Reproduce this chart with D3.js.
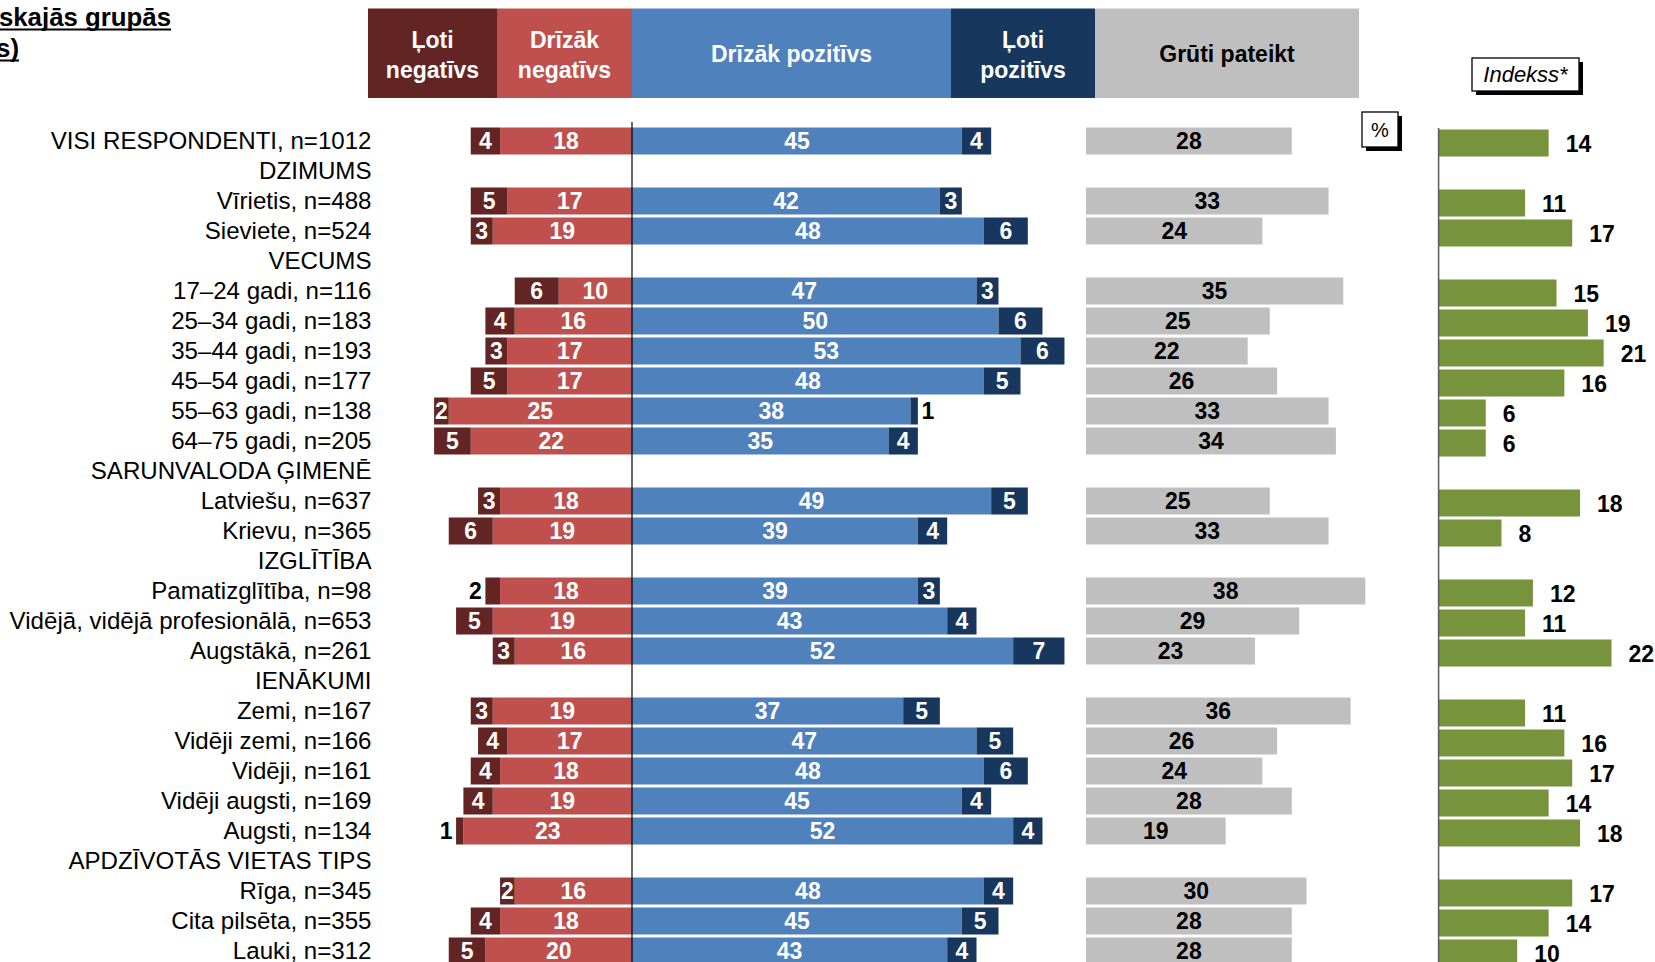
<!DOCTYPE html>
<html>
<head>
<meta charset="utf-8">
<script src="https://cdn.jsdelivr.net/npm/d3@7"></script>
<style>
  html, body { margin: 0; padding: 0; background: #fff; }
  svg { display: block; font-family: "Liberation Sans", Arial, sans-serif; }
</style>
</head>
<body>
<svg id="chart" width="1655" height="962"></svg>
<script>
// ---------------- DATA ----------------
const categories = [
  "VISI RESPONDENTI, n=1012", "DZIMUMS",
  "Vīrietis, n=488", "Sieviete, n=524", "VECUMS",
  "17–24 gadi, n=116", "25–34 gadi, n=183", "35–44 gadi, n=193",
  "45–54 gadi, n=177", "55–63 gadi, n=138", "64–75 gadi, n=205",
  "SARUNVALODA ĢIMENĒ", "Latviešu, n=637", "Krievu, n=365",
  "IZGLĪTĪBA", "Pamatizglītība, n=98", "Vidējā, vidējā profesionālā, n=653",
  "Augstākā, n=261", "IENĀKUMI", "Zemi, n=167", "Vidēji zemi, n=166",
  "Vidēji, n=161", "Vidēji augsti, n=169", "Augsti, n=134",
  "APDZĪVOTĀS VIETAS TIPS", "Rīga, n=345", "Cita pilsēta, n=355", "Lauki, n=312"
];
// null = group heading row
const lotiNegativs   = [4,null,5,3,null,6,4,3,5,2,5,null,3,6,null,2,5,3,null,3,4,4,4,1,null,2,4,5];
const drizakNegativs = [18,null,17,19,null,10,16,17,17,25,22,null,18,19,null,18,19,16,null,19,17,18,19,23,null,16,18,20];
const drizakPozitivs = [45,null,42,48,null,47,50,53,48,38,35,null,49,39,null,39,43,52,null,37,47,48,45,52,null,48,45,43];
const lotiPozitivs   = [4,null,3,6,null,3,6,6,5,1,4,null,5,4,null,3,4,7,null,5,5,6,4,4,null,4,5,4];
const grutiPateikt   = [28,null,33,24,null,35,25,22,26,33,34,null,25,33,null,38,29,23,null,36,26,24,28,19,null,30,28,28];
const indekss        = [14,null,11,17,null,15,19,21,16,6,6,null,18,8,null,12,11,22,null,11,16,17,14,18,null,17,14,10];
// labels drawn outside their segment: [row, series]
const outsideLabels = [[9,"lp"],[15,"ln"],[23,"ln"]];

const headerLabels = [
  {key:"ln", lines:["Ļoti","negatīvs"]},
  {key:"dn", lines:["Drīzāk","negatīvs"]},
  {key:"dp", lines:["Drīzāk pozitīvs"]},
  {key:"lp", lines:["Ļoti","pozitīvs"]},
  {key:"gp", lines:["Grūti pateikt"]}
];
const titleLines = ["skajās grupās", "s)"];

// ---------------- STYLE ----------------
const colors = {ln:"#632523", dn:"#C0504D", dp:"#4F81BD", lp:"#17375E", gp:"#BFBFBF", idx:"#77933C"};

const svg = d3.select("#chart");
const W = 1655, H = 962;

// scales
const y = d3.scaleBand().domain(d3.range(categories.length))
  .range([126, 126 + 30 * categories.length]).paddingInner(0.1).paddingOuter(0.05);
const center = 632;
const xDiv = d3.scaleLinear().domain([0, 10]).range([center, center + 73.3]);
const unit = v => xDiv(v) - xDiv(0);
const xGrey = d3.scaleLinear().domain([0, 10]).range([1086, 1086 + 73.5]);
const xIdx = d3.scaleLinear().domain([0, 10]).range([1438.6, 1438.6 + 78.6]);

// title
const tg = svg.append("g");
titleLines.forEach((t, i) => {
  const yy = 26 + i * 31;
  const xe = i === 0 ? 171 : 19;
  const txt = tg.append("text").attr("x", xe).attr("y", yy)
    .attr("text-anchor", "end").attr("font-size", 25.8).attr("font-weight", "bold")
    .attr("fill", "#000").text(t);
  const w = txt.node().getComputedTextLength();
  tg.append("line").attr("x1", Math.max(0, xe - w)).attr("x2", xe)
    .attr("y1", yy + 3.5).attr("y2", yy + 3.5).attr("stroke", "#000").attr("stroke-width", 2);
});

// header boxes
const headerX = {ln:[368,497], dn:[497,632], dp:[632,951], lp:[951,1095], gp:[1095,1359]};
const hg = svg.append("g");
headerLabels.forEach(h => {
  const [x0, x1] = headerX[h.key];
  hg.append("rect").attr("x", x0).attr("y", 8.5).attr("width", x1 - x0).attr("height", 89.5)
    .attr("fill", colors[h.key]);
  const cx = (x0 + x1) / 2;
  const fill = h.key === "gp" ? "#000" : "#fff";
  if (h.lines.length === 1) {
    hg.append("text").attr("x", cx).attr("y", 54).attr("dy", "0.35em").attr("text-anchor", "middle")
      .attr("font-size", 23).attr("font-weight", "bold").attr("fill", fill).text(h.lines[0]);
  } else {
    h.lines.forEach((l, i) => {
      hg.append("text").attr("x", cx).attr("y", 40 + i * 29.5).attr("dy", "0.35em").attr("text-anchor", "middle")
        .attr("font-size", 23).attr("font-weight", "bold").attr("fill", fill).text(l);
    });
  }
});

// shadow boxes
function shadowBox(x, yy, w, h, text, italic, fs) {
  const g = svg.append("g");
  g.append("rect").attr("x", x + 4).attr("y", yy + 4).attr("width", w).attr("height", h).attr("fill", "#000");
  g.append("rect").attr("x", x).attr("y", yy).attr("width", w).attr("height", h)
    .attr("fill", "#fff").attr("stroke", "#000").attr("stroke-width", 1.3);
  g.append("text").attr("x", x + w / 2).attr("y", yy + h / 2).attr("dy", "0.35em")
    .attr("text-anchor", "middle").attr("font-size", fs)
    .attr("font-style", italic ? "italic" : "normal").attr("fill", "#000").text(text);
}
shadowBox(1362, 112, 36, 35, "%", false, 20);
shadowBox(1472, 58, 107, 33, "Indekss*", true, 22);

// category labels
svg.append("g").selectAll("text").data(categories).join("text")
  .attr("x", 371.5).attr("y", (d, i) => y(i) + y.bandwidth() / 2).attr("dy", "0.35em")
  .attr("text-anchor", "end").attr("font-size", 24.1).attr("fill", "#000").text(d => d);

// diverging bars
const rows = categories.map((c, i) => ({
  i, ln: lotiNegativs[i], dn: drizakNegativs[i], dp: drizakPozitivs[i], lp: lotiPozitivs[i],
  gp: grutiPateikt[i], idx: indekss[i]
})).filter(r => r.dp !== null);

const segs = [];
rows.forEach(r => {
  segs.push({row: r.i, key: "dn", v: r.dn, x0: center - unit(r.dn), x1: center});
  segs.push({row: r.i, key: "ln", v: r.ln, x0: center - unit(r.dn + r.ln), x1: center - unit(r.dn)});
  segs.push({row: r.i, key: "dp", v: r.dp, x0: xDiv(0), x1: xDiv(r.dp)});
  segs.push({row: r.i, key: "lp", v: r.lp, x0: xDiv(r.dp), x1: xDiv(r.dp + r.lp)});
  segs.push({row: r.i, key: "gp", v: r.gp, x0: xGrey(0), x1: xGrey(r.gp)});
});
const isOutside = s => outsideLabels.some(o => o[0] === s.row && o[1] === s.key);

const bg = svg.append("g");
bg.selectAll("rect").data(segs).join("rect")
  .attr("x", d => d.x0).attr("y", d => y(d.row)).attr("width", d => d.x1 - d.x0)
  .attr("height", y.bandwidth()).attr("fill", d => colors[d.key]);

bg.selectAll("text").data(segs).join("text")
  .attr("x", d => {
    if (!isOutside(d)) return (d.x0 + d.x1) / 2;
    return d.key === "ln" ? d.x0 - 10 : d.x1 + 10;
  })
  .attr("y", d => y(d.row) + y.bandwidth() / 2).attr("dy", "0.36em")
  .attr("text-anchor", "middle").attr("font-size", 23).attr("font-weight", "bold")
  .attr("fill", d => (d.key === "gp" || isOutside(d)) ? "#000" : "#fff")
  .text(d => d.v);

// center line
svg.append("line").attr("x1", center).attr("x2", center).attr("y1", 122).attr("y2", H)
  .attr("stroke", "#000").attr("stroke-width", 1.2);

// index bars
const ig = svg.append("g");
ig.selectAll("rect").data(rows).join("rect")
  .attr("x", xIdx(0)).attr("y", d => y(d.i) + 2).attr("width", d => xIdx(d.idx) - xIdx(0))
  .attr("height", y.bandwidth()).attr("fill", colors.idx);
ig.selectAll("text").data(rows).join("text")
  .attr("x", d => xIdx(d.idx) + 17).attr("y", d => y(d.i) + y.bandwidth() / 2 + 3).attr("dy", "0.36em")
  .attr("text-anchor", "start").attr("font-size", 23).attr("font-weight", "bold").attr("fill", "#000")
  .text(d => d.idx);
svg.append("line").attr("x1", xIdx(0)).attr("x2", xIdx(0)).attr("y1", 128).attr("y2", H)
  .attr("stroke", "#595959").attr("stroke-width", 1.5);
</script>
</body>
</html>
